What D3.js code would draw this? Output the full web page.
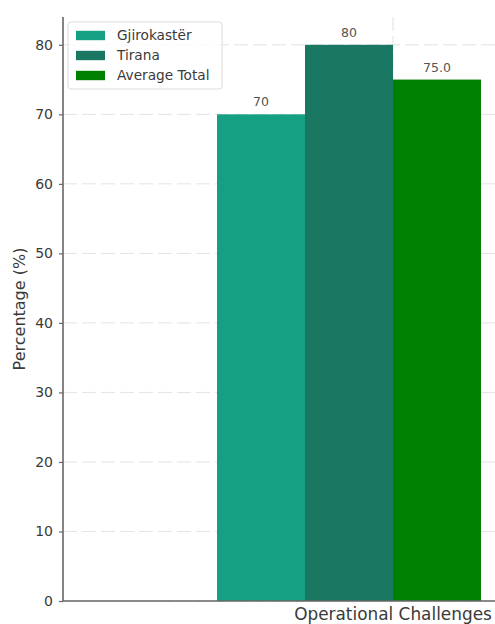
<!DOCTYPE html>
<html>
<head>
<meta charset="utf-8">
<script src="https://cdn.jsdelivr.net/npm/d3@7"></script>
<style>
  html, body { margin: 0; padding: 0; background: #fff; }
  svg { display: block; font-family: "DejaVu Sans", sans-serif; }
</style>
</head>
<body>
<svg id="chart" width="495" height="624"></svg>
<script>
// Survey results for one challenge category, split by city
const categories = ["Operational Challenges"];
const seriesNames = ["Gjirokastër", "Tirana", "Average Total"];
const gjirokasterValues = [70];
const tiranaValues = [80];
const averageValues = [75.0];
const valueLabels = [["70"], ["80"], ["75.0"]];
const yTicks = [0, 10, 20, 30, 40, 50, 60, 70, 80];
const seriesColors = ["#16a083", "#1a7862", "#008000"];

const seriesValues = [gjirokasterValues, tiranaValues, averageValues];

const svg = d3.select("#chart");

// Plot area (continues past the right edge of the canvas)
const plotLeft = 63, plotTop = 17, plotBottom = 601, plotRight = 723;

const x = d3.scaleLinear().domain([-0.75, 0.75]).range([plotLeft, plotRight]);
const y = d3.scaleLinear().domain([0, 84]).range([plotBottom, plotTop]);
const barW = 0.2;

// Dashed grid behind the bars
const grid = svg.append("g").attr("class", "grid");
yTicks.forEach(t => {
  grid.append("line")
    .attr("x1", plotLeft).attr("x2", plotRight)
    .attr("y1", y(t)).attr("y2", y(t))
    .attr("stroke", "#dcdcdc")
    .attr("stroke-opacity", 0.8)
    .attr("stroke-dasharray", "14,5");
});
categories.forEach((c, i) => {
  grid.append("line")
    .attr("x1", x(i)).attr("x2", x(i))
    .attr("y1", plotTop).attr("y2", plotBottom)
    .attr("stroke", "#dcdcdc")
    .attr("stroke-opacity", 0.8)
    .attr("stroke-dasharray", "14,5");
});

// Bars: the group sits left of the tick, last bar starting on it
const bars = svg.append("g").attr("class", "bars");
const labels = svg.append("g").attr("class", "value-labels");
seriesValues.forEach((vals, s) => {
  vals.forEach((v, c) => {
    const x0 = x(c + (s - 2) * barW);
    const x1 = x(c + (s - 1) * barW);
    bars.append("rect")
      .attr("x", x0)
      .attr("y", y(v))
      .attr("width", x1 - x0)
      .attr("height", y(0) - y(v))
      .attr("fill", seriesColors[s]);
    labels.append("text")
      .attr("x", (x0 + x1) / 2)
      .attr("y", y(v) - 8)
      .attr("text-anchor", "middle")
      .attr("font-size", 12.5)
      .attr("fill", "#555")
      .text(valueLabels[s][c]);
  });
});

// Y axis
const yAxis = d3.axisLeft(y).tickValues(yTicks).tickSize(4).tickPadding(6);
const yg = svg.append("g")
  .attr("transform", `translate(${plotLeft},0)`)
  .call(yAxis);
yg.select(".domain").attr("stroke", "#666").attr("stroke-width", 1.6)
  .attr("d", `M0,${plotTop}V${plotBottom}`);
yg.selectAll(".tick line").attr("stroke", "#666").attr("stroke-width", 1.2);
yg.selectAll(".tick text")
  .attr("font-size", 14)
  .attr("fill", "#3a3a3a")
  .attr("font-family", "DejaVu Sans, sans-serif");

// X axis
const xg = svg.append("g").attr("transform", `translate(0,${plotBottom})`);
xg.append("line")
  .attr("x1", plotLeft).attr("x2", plotRight)
  .attr("stroke", "#666").attr("stroke-width", 1.6);
categories.forEach((c, i) => {
  xg.append("text")
    .attr("x", x(i))
    .attr("y", 19)
    .attr("text-anchor", "middle")
    .attr("font-size", 16.9)
    .attr("fill", "#3a3a3a")
    .text(c);
});

// Y axis title
svg.append("text")
  .attr("transform", `translate(25,${(plotTop + plotBottom) / 2}) rotate(-90)`)
  .attr("text-anchor", "middle")
  .attr("font-size", 16)
  .attr("fill", "#3a3a3a")
  .text("Percentage (%)");

// Legend
const lg = svg.append("g").attr("transform", "translate(68,22)");
lg.append("rect")
  .attr("width", 154).attr("height", 67)
  .attr("rx", 3)
  .attr("fill", "#fff").attr("fill-opacity", 0.8)
  .attr("stroke", "#dcdcdc");
seriesNames.forEach((name, i) => {
  const row = lg.append("g").attr("transform", `translate(8,${13.5 + i * 20})`);
  row.append("rect")
    .attr("x", 0).attr("y", -4.7)
    .attr("width", 29).attr("height", 9.4)
    .attr("fill", seriesColors[i]);
  row.append("text")
    .attr("x", 41).attr("y", 0)
    .attr("dy", "0.35em")
    .attr("font-size", 13.7)
    .attr("fill", "#3a3a3a")
    .text(name);
});
</script>
</body>
</html>
